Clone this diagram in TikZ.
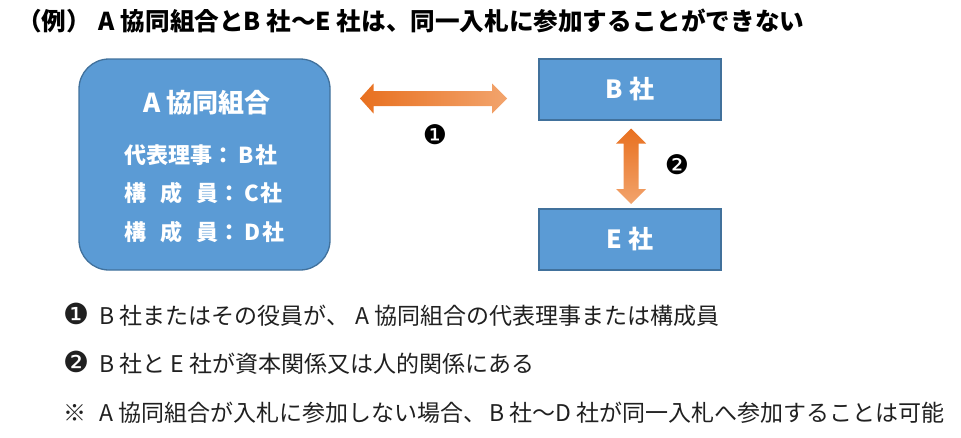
\documentclass[tikz,border=0pt]{standalone}
\usepackage{fontspec}
\setmainfont{Noto Sans CJK JP}
\newfontfamily\symfont{DejaVu Sans}
\definecolor{boxblue}{HTML}{5B9BD5}
\definecolor{boxline}{HTML}{41719C}
\definecolor{orangeA}{HTML}{E8701F}
\definecolor{orangeB}{HTML}{F2A46D}
\definecolor{notecol}{HTML}{202020}
\tikzset{
  bluebox/.style={draw=boxline, line width=1.3pt, fill=boxblue, inner sep=0},
  whitetxt/.style={text=white, inner sep=0, font=\bfseries\fontsize{#1}{#1}\selectfont},
  notetxt/.style={anchor=west, inner sep=0, text=notecol, font=\fontsize{23}{23}\selectfont},
  marktxt/.style={inner sep=0, font=\symfont\fontsize{27}{27}\selectfont},
}
\newcommand{\bigmark}[1]{{\symfont\fontsize{29}{29}\selectfont #1}}
\begin{document}
\begin{tikzpicture}[x=1pt,y=-1pt]
\useasboundingbox (0,0) rectangle (961,437);
\node[anchor=west, inner sep=0, font=\bfseries\fontsize{24.6}{24.6}\selectfont] (title) at (17,21)
  {（例）\hspace{8pt}A 協同組合とB 社～E 社は、同一入札に参加することができない};
% A box
\node[bluebox, rounded corners=30pt, minimum width=251pt, minimum height=211pt] (A) at (204.5,164.5) {};
\node[whitetxt=26] (At) at (207,103) {A 協同組合};
\node[whitetxt=22, anchor=west] (A1) at (124,155) {代表理事：\hspace{4pt}B\hspace{2pt}社};
\node[whitetxt=22, anchor=west] (A2) at (124,193) {構\hspace{14pt}成\hspace{14pt}員：\hspace{4pt}C\hspace{2pt}社};
\node[whitetxt=22, anchor=west] (A3) at (124,232) {構\hspace{14pt}成\hspace{14pt}員：\hspace{4pt}D\hspace{2pt}社};
% B and E boxes
\node[bluebox, minimum width=182pt, minimum height=61pt] (B) at (630,89.5) {};
\node[whitetxt=25] (Bt) at (B.center) {B 社};
\node[bluebox, minimum width=182pt, minimum height=61pt] (E) at (630,239.5) {};
\node[whitetxt=25] (Et) at (E.center) {E 社};
% arrows
\coordinate (h) at (433.5,98.5);
\coordinate (v) at (631,166);
\shade[left color=orangeA, right color=orangeB]
  ([xshift=-73.5pt]h) -- ([xshift=-60pt,yshift=-15pt]h) -- ([xshift=-60pt,yshift=-7.5pt]h)
  -- ([xshift=58.5pt,yshift=-7.5pt]h) -- ([xshift=58.5pt,yshift=-15pt]h) -- ([xshift=73.5pt]h)
  -- ([xshift=58.5pt,yshift=15pt]h) -- ([xshift=58.5pt,yshift=7.5pt]h)
  -- ([xshift=-60pt,yshift=7.5pt]h) -- ([xshift=-60pt,yshift=15pt]h) -- cycle;
\shade[top color=orangeA, bottom color=orangeB]
  ([yshift=-38pt]v) -- ([xshift=15pt,yshift=-23pt]v) -- ([xshift=7.5pt,yshift=-23pt]v)
  -- ([xshift=7.5pt,yshift=22.5pt]v) -- ([xshift=15pt,yshift=22.5pt]v) -- ([yshift=37.5pt]v)
  -- ([xshift=-15pt,yshift=22.5pt]v) -- ([xshift=-7.5pt,yshift=22.5pt]v)
  -- ([xshift=-7.5pt,yshift=-23pt]v) -- ([xshift=-15pt,yshift=-23pt]v) -- cycle;
\node[marktxt] (m1) at (435,135) {❶};
\node[marktxt] (m2) at (677,165) {❷};
% notes
\node[notetxt] (n1) at (63,315) {\bigmark{❶}\hspace{5pt} B 社またはその役員が、\hspace{6pt}A 協同組合の代表理事または構成員};
\node[notetxt] (n2) at (63,363) {\bigmark{❷}\hspace{5pt} B 社と E 社が資本関係又は人的関係にある};
\node[notetxt] (n3) at (63,413) {※\hspace{8pt} A 協同組合が入札に参加しない場合、\hspace{-2pt} B 社～D 社が同一入札へ参加することは可能};
\end{tikzpicture}
\end{document}
